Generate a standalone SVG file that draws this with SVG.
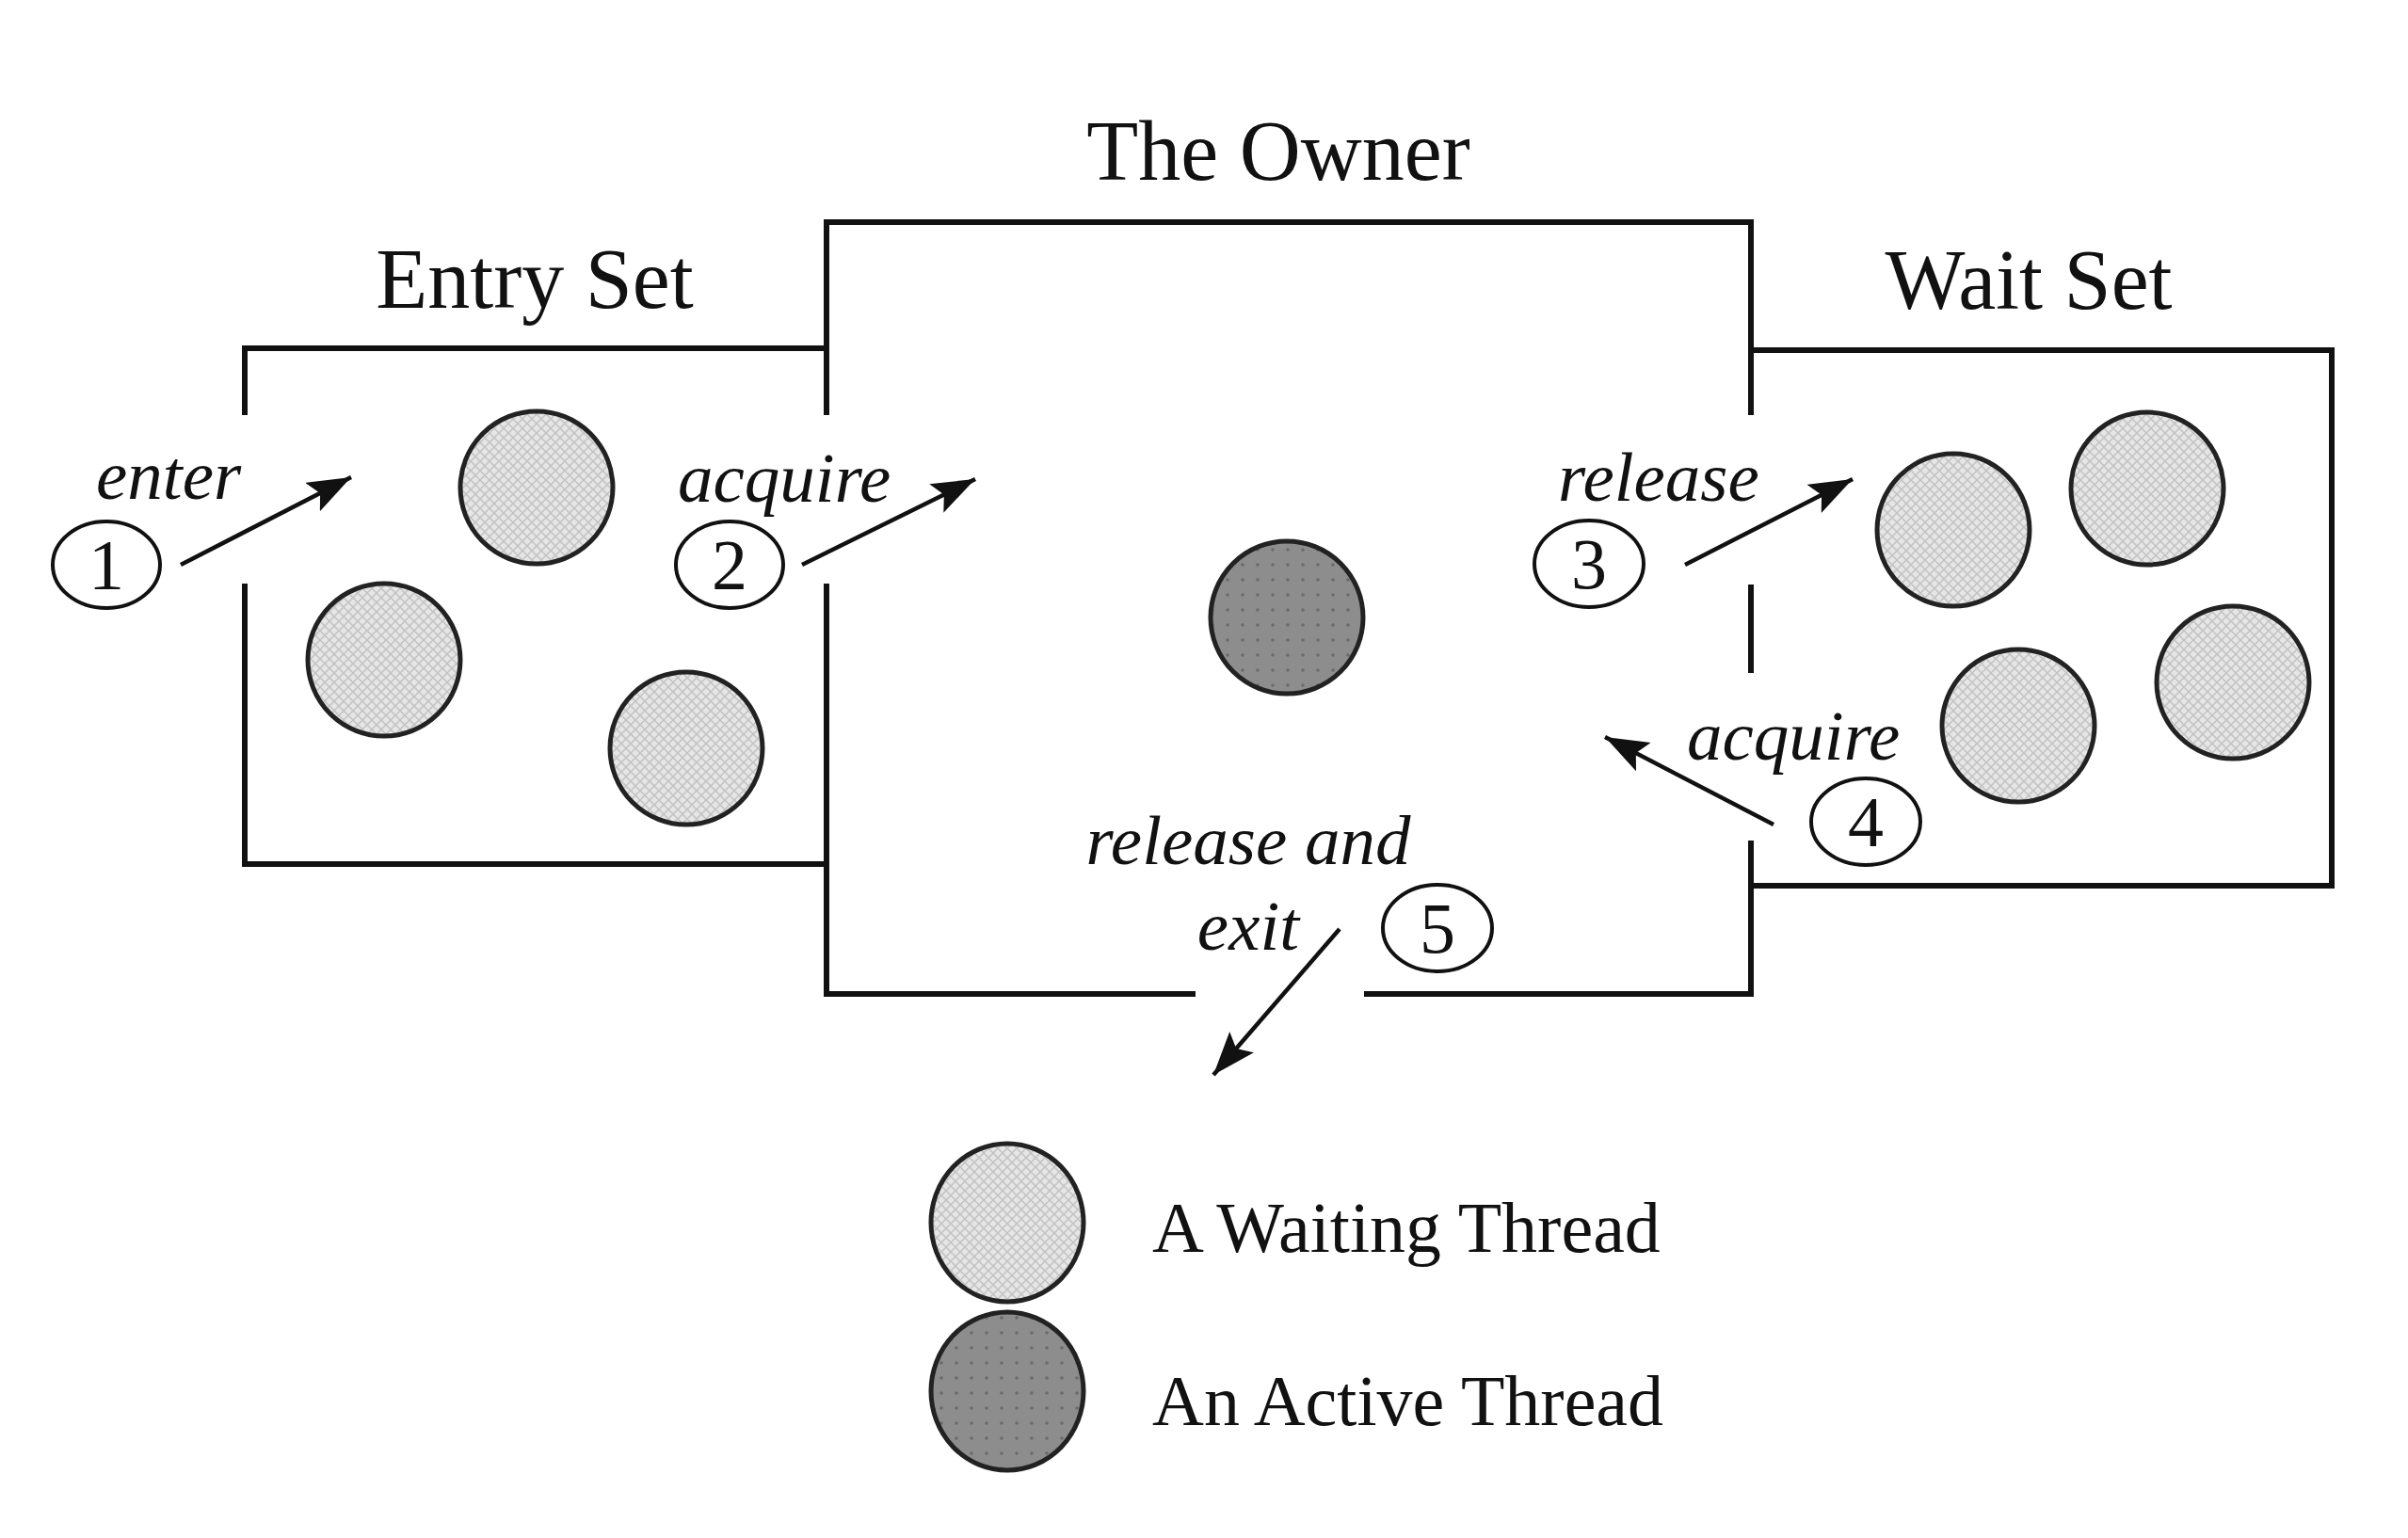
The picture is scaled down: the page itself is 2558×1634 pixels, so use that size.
<svg xmlns="http://www.w3.org/2000/svg" width="2558" height="1634" viewBox="0 0 2558 1634">
<style>
.box{stroke:#111;stroke-width:6;fill:none;stroke-linecap:square}
.wait{fill:url(#hatch);stroke:#222;stroke-width:5}
.active{fill:url(#dots);stroke:#222;stroke-width:5}
.num{fill:#fff;stroke:#111;stroke-width:4}
.title{font-family:"Liberation Serif",serif;font-size:90px;fill:#111}
.lbl{font-family:"Liberation Serif",serif;font-size:75px;font-style:italic;fill:#111}
.digit{font-family:"Liberation Serif",serif;font-size:76px;fill:#111;text-anchor:middle}
.legend{font-family:"Liberation Serif",serif;font-size:76px;fill:#111}
.arrow{stroke:#111;stroke-width:4.5;fill:none;marker-end:url(#ah)}
</style>
<defs>
<pattern id="hatch" patternUnits="userSpaceOnUse" width="10" height="10">
<rect width="10" height="10" fill="#e6e6e6"/>
<path d="M0 0L10 10M10 0L0 10" stroke="#c2c2c2" stroke-width="1.5"/>
</pattern>
<pattern id="dots" patternUnits="userSpaceOnUse" width="16" height="16">
<rect width="16" height="16" fill="#8d8d8d"/>
<circle cx="8" cy="8" r="1.8" fill="#6a6a6a"/>
</pattern>
<marker id="ah" markerUnits="userSpaceOnUse" markerWidth="56" markerHeight="44" refX="46" refY="17" orient="auto">
<path d="M0 0L46 17L0 34L9 17Z" fill="#111"/>
</marker>
</defs>
<rect width="2558" height="1634" fill="#fff"/>

<g id="entry-set">
<text class="title" x="568" y="327" text-anchor="middle">Entry Set</text>
<path class="box" d="M260 438V370H878M260 623V918H878"/>
<circle class="wait" cx="570" cy="518" r="81"/>
<circle class="wait" cx="408" cy="701" r="81"/>
<circle class="wait" cx="729" cy="795" r="81"/>
</g>

<g id="owner">
<text class="title" x="1358" y="191" text-anchor="middle">The Owner</text>
<path class="box" d="M878 438V236H1860V438M878 623V1056H1267M1452 1056H1860V896M1860 624V712"/>
<circle class="active" cx="1367" cy="656" r="81"/>
</g>

<g id="wait-set">
<text class="title" x="2155" y="328" text-anchor="middle">Wait Set</text>
<path class="box" d="M1860 372H2477V941H1860"/>
<circle class="wait" cx="2075" cy="563" r="81"/>
<circle class="wait" cx="2281" cy="519" r="81"/>
<circle class="wait" cx="2144" cy="771" r="81"/>
<circle class="wait" cx="2372" cy="725" r="81"/>
</g>

<g id="connectors">
<line class="arrow" x1="192" y1="600" x2="373" y2="507"/>
<line class="arrow" x1="852" y1="600" x2="1036" y2="509"/>
<line class="arrow" x1="1790" y1="600" x2="1968" y2="509"/>
<line class="arrow" x1="1884" y1="876" x2="1705" y2="783"/>
<line class="arrow" x1="1423" y1="987" x2="1289" y2="1142"/>
</g>

<g id="step1">
<text class="lbl" x="102" y="530">enter</text>
<ellipse class="num" cx="113" cy="600" rx="57" ry="46"/>
<text class="digit" x="113" y="626">1</text>
</g>
<g id="step2">
<text class="lbl" x="720" y="533">acquire</text>
<ellipse class="num" cx="775" cy="600" rx="57" ry="46"/>
<text class="digit" x="775" y="626">2</text>
</g>
<g id="step3">
<text class="lbl" x="1655" y="532">release</text>
<ellipse class="num" cx="1688" cy="599" rx="58" ry="46"/>
<text class="digit" x="1688" y="625">3</text>
</g>
<g id="step4">
<text class="lbl" x="1792" y="807">acquire</text>
<ellipse class="num" cx="1982" cy="873" rx="58" ry="46"/>
<text class="digit" x="1982" y="899">4</text>
</g>
<g id="step5">
<text class="lbl" x="1326" y="918" text-anchor="middle">release and</text>
<text class="lbl" x="1326" y="1009" text-anchor="middle">exit</text>
<ellipse class="num" cx="1527" cy="986" rx="58" ry="46"/>
<text class="digit" x="1527" y="1012">5</text>
</g>

<g id="legend">
<ellipse class="wait" cx="1070" cy="1299" rx="81" ry="84"/>
<text class="legend" x="1224" y="1330">A Waiting Thread</text>
<ellipse class="active" cx="1070" cy="1478" rx="81" ry="84"/>
<text class="legend" x="1224" y="1514">An Active Thread</text>
</g>
</svg>
